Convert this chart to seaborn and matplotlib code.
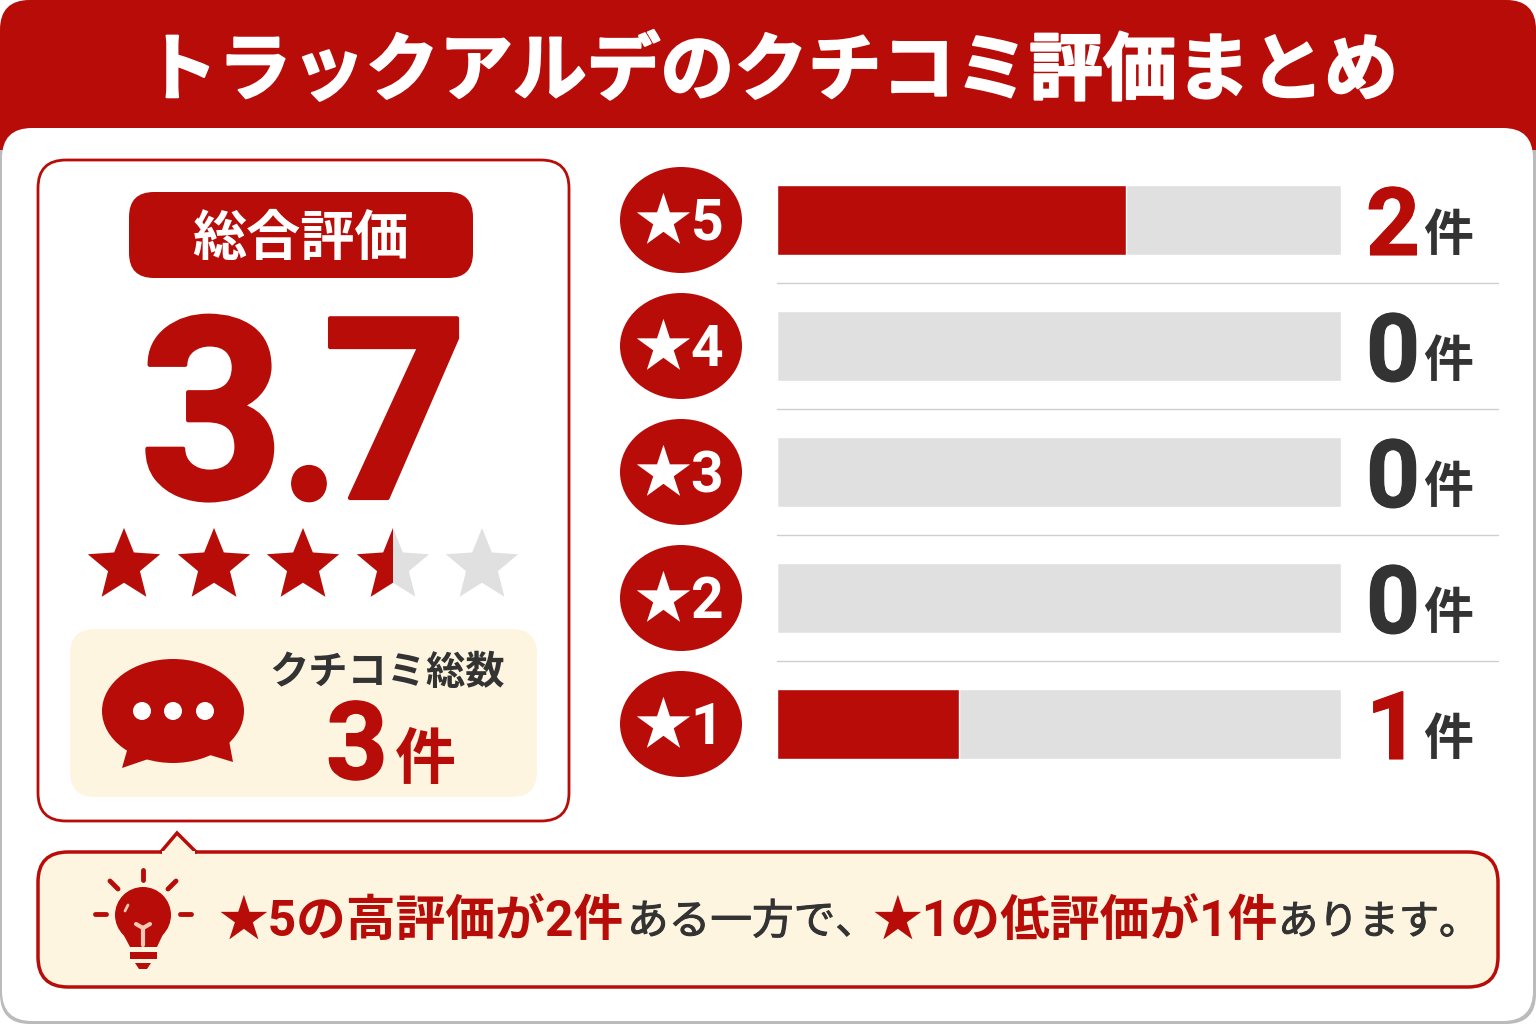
import numpy as np
import pandas as pd
import seaborn as sns
import matplotlib.pyplot as plt
import matplotlib.patheffects as pe
from matplotlib.patches import FancyBboxPatch, Ellipse, Polygon, Rectangle, Circle

# data
title = 'トラックアルデのクチコミ評価まとめ'
star_labels = ['★5', '★4', '★3', '★2', '★1']
counts = [2, 0, 0, 0, 1]
fill_share = [61.9, 0, 0, 0, 32.3]
track_share = [100, 100, 100, 100, 100]
overall = ['3', '.', '7']
overall_x = [212, 309, 395]
star_fill = [1, 1, 1, 0.5, 0]
total_label = 'クチコミ総数'
total_count = 3
note_parts = ['★5の高評価が2件', 'ある一方で、', '★1の低評価が1件', 'あります。']

RED = '#B80C09'
GREY = '#E0E0E0'
DARK = '#333333'
CREAM = '#FDF5E0'

sns.set_theme(style='white')
plt.rcParams['font.family'] = ['Roboto', 'Noto Sans CJK JP', 'DejaVu Sans']

fig = plt.figure(figsize=(15.36, 10.24), dpi=100)
ax = fig.add_axes([0, 0, 1, 1])
ax.set_xlim(0, 1536)
ax.set_ylim(1024, 0)
ax.axis('off')


def rbox(x, y, w, h, r, **kw):
    p = FancyBboxPatch((x + r, y + r), w - 2 * r, h - 2 * r,
                       boxstyle=f'round,pad={r},rounding_size={r}', **kw)
    ax.add_patch(p)
    return p


def star_points(cx, cy, R, inner=0.44):
    ang = np.deg2rad(np.arange(10) * 36 - 90)
    rad = np.where(np.arange(10) % 2 == 0, R, R * inner)
    return np.column_stack([cx + rad * np.cos(ang), cy + rad * np.sin(ang)])


def bold(x, y, s, size, color, extra=0, **kw):
    kw.setdefault('ha', 'center')
    kw.setdefault('va', 'baseline')
    t = ax.text(x, y, s, fontsize=size, color=color, fontweight='bold', **kw)
    if extra:
        t.set_path_effects([pe.withStroke(linewidth=extra, foreground=color)])
    return t


# card and header
rbox(0, 0, 1536, 1024, 30, fc='#BBBBBB', ec='none')
rbox(0, 0, 1536, 156, 30, fc=RED, ec='none')
ax.add_patch(Rectangle((0, 30), 1536, 120, fc=RED, ec='none'))
rbox(2, 128, 1531, 893, 30, fc='white', ec='none')
bold(771, 94, title, 53.1, 'white', extra=1.5, family=['Noto Sans CJK JP'])

# left panel
rbox(38, 160, 531, 661, 28, fc='white', ec=RED, lw=2)
rbox(129, 192, 344, 86, 25, fc=RED, ec='none')
bold(300, 255, '総合評価', 39, 'white')
bold(overall_x[0], 498, overall[0], 182, RED, extra=3)
bold(overall_x[1], 499, overall[1], 135, RED, extra=1, family=['Noto Sans CJK JP'])
bold(overall_x[2], 498, overall[2], 182, RED, extra=3)

for cx, f in zip([124, 214, 303, 393, 482], star_fill):
    pts = star_points(cx, 566, 38)
    ax.add_patch(Polygon(pts, closed=True, fc=GREY, ec='none'))
    if f > 0:
        red_star = Polygon(pts, closed=True, fc=RED, ec='none')
        ax.add_patch(red_star)
        red_star.set_clip_path(Rectangle((cx - 40, 520), 80 * f, 90, transform=ax.transData))

# total box
rbox(70, 629, 467, 168, 25, fc=CREAM, ec='none')
ax.add_patch(Ellipse((173, 711), 142, 104, fc=RED, ec='none'))
ax.add_patch(Polygon([(130, 740), (122, 768), (160, 755)], fc=RED, ec='none'))
ax.add_patch(Polygon([(228, 735), (233, 762), (200, 752)], fc=RED, ec='none'))
for dx in [142, 173, 205]:
    ax.add_patch(Circle((dx, 711), 9, fc='white', ec='none'))
bold(387, 684, total_label, 28.3, DARK)
bold(357, 779, str(total_count), 78, RED, extra=1)
bold(425, 779, '件', 44, RED)

# bars
bar_ax = fig.add_axes([776.5 / 1536, 1 - 787 / 1024, 564.5 / 1536, 630 / 1024])
df = pd.DataFrame({'star': star_labels, 'track': track_share, 'fill': fill_share})
sns.barplot(data=df, y='star', x='track', color=GREY, width=70 / 126, saturation=1, ax=bar_ax)
sns.barplot(data=df, y='star', x='fill', color=RED, width=70 / 126, saturation=1, ax=bar_ax)
bar_ax.set_xlim(0, 100)
bar_ax.patch.set_alpha(0)
bar_ax.axis('off')

# rows
for i, (lab, n) in enumerate(zip(star_labels, counts)):
    yc = 220 + 126 * i
    ax.add_patch(Ellipse((681, yc), 122, 106, fc=RED, ec='none'))
    bold(680, yc + 20, lab, 41, 'white')
    bold(1393, yc + 35, str(n), 68, RED if n > 0 else DARK, extra=0.8)
    bold(1423, yc + 31, '件', 36, DARK, ha='left')
    if i < 4:
        ax.plot([777, 1498], [yc + 63, yc + 63], color='#CFCFCF', lw=1)

# note box
rbox(38, 852, 1460, 135, 30, fc=CREAM, ec=RED, lw=2.5)
ax.add_patch(Polygon([(160, 853), (177, 833), (197, 853)], closed=False, fc=CREAM, ec=RED, lw=2.5, zorder=3))
ax.add_patch(Rectangle((162, 851), 33, 4, fc=CREAM, ec='none', zorder=4))

# bulb icon
ax.add_patch(Circle((143, 915), 28, fc=RED, ec='none'))
ax.add_patch(Polygon([(120, 928), (166, 928), (157, 947), (130, 947)], fc=RED, ec='none'))
ax.add_patch(Rectangle((130, 952), 27, 7, fc=RED, ec='none'))
ax.add_patch(Polygon([(135, 963), (151, 963), (147, 969), (139, 969)], fc=RED, ec='none'))
ax.plot([143, 143, 136], [945, 928, 924], color='#F3C9B5', lw=3, solid_capstyle='round')
ax.plot([143, 150], [928, 924], color='#F3C9B5', lw=3, solid_capstyle='round')
ax.plot([125, 128], [911, 905], color='#F3C9B5', lw=2, solid_capstyle='round')
for seg in [([143, 143], [870, 880]), ([110, 118], [881, 889]), ([176, 168], [881, 889]),
            ([95, 106], [914, 914]), ([180, 191], [914, 914])]:
    ax.plot(seg[0], seg[1], color=RED, lw=3.5, solid_capstyle='round')

# note text
bold(218, 936, note_parts[0], 35.8, RED, ha='left')
thin = [pe.withStroke(linewidth=0.7, foreground=DARK)]
ax.text(627, 934, note_parts[1], fontsize=30, color=DARK, ha='left', va='baseline', path_effects=thin)
bold(872, 936, note_parts[2], 35.8, RED, ha='left')
ax.text(1278, 934, note_parts[3], fontsize=29, color=DARK, ha='left', va='baseline', path_effects=thin)

fig.savefig('out.png', dpi=100)
